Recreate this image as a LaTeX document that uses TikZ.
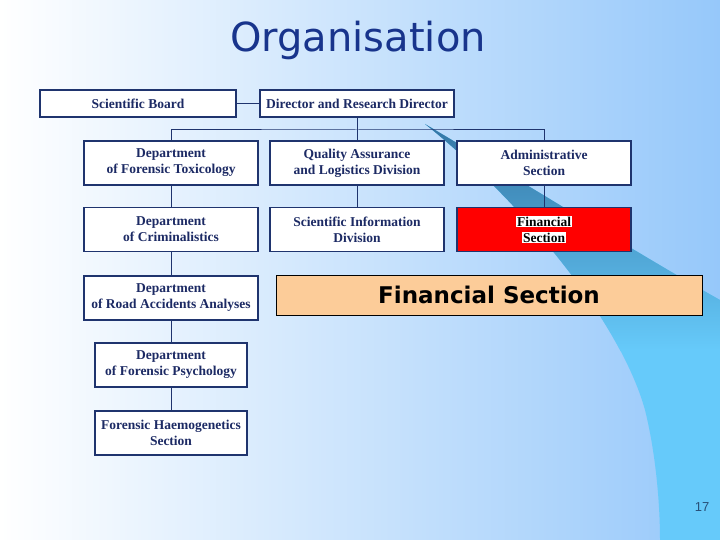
\documentclass[tikz,border=0pt]{standalone}
\usepackage{fontspec}
\setmainfont{Liberation Serif}
\newfontfamily\slidefont{DejaVu Sans}
\newfontfamily\numfont{Liberation Sans}
\definecolor{navy}{RGB}{31,52,110}
\definecolor{boxtext}{RGB}{28,42,100}
\definecolor{titleblue}{RGB}{24,52,140}
\definecolor{bgblue}{RGB}{150,200,250}
\definecolor{swdark}{RGB}{40,98,144}
\definecolor{swcyan}{RGB}{102,202,250}
\definecolor{peach}{RGB}{252,204,153}
\definecolor{finred}{RGB}{255,0,0}
\definecolor{pagegray}{RGB}{40,80,120}
\begin{document}
\begin{tikzpicture}[x=1pt,y=-1pt,font=\bfseries\fontsize{13.5}{16}\selectfont,
  box/.style={draw=navy,line width=1.6pt,fill=white,text=boxtext,align=center,minimum width=174pt,minimum height=44pt,inner sep=1pt},
  wide/.style={box,minimum height=27pt},
  link/.style={draw=navy,line width=1pt}]
\useasboundingbox (0,0) rectangle (720,540);
\shade[left color=white,right color=bgblue] (0,0) rectangle (720,540);
\begin{scope}
\clip (425,124) .. controls (520,180) and (640,255) .. (720,300) -- (720,540) -- (660,540) .. controls (660,500) and (655,450) .. (645,410) .. controls (620,320) and (520,200) .. cycle;
\fill[swcyan] (400,100) rectangle (720,540);
\shade[top color=swdark,bottom color=swcyan] (400,70) rectangle (720,350);
\end{scope}
\node[font=\slidefont\fontsize{40}{44}\selectfont,text=titleblue] (title) at (358,40) {Organisation};
\node[wide,minimum width=196pt] (sb) at (138,103.5) {Scientific Board};
\node[wide,minimum width=194pt] (dir) at (357,103.5) {Director and Research Director};
\node[box] (tox) at (171,163) {Department\\of Forensic Toxicology};
\node[box] (qa) at (357,163) {Quality Assurance\\and Logistics Division};
\node[box] (adm) at (544,163) {Administrative\\Section};
\node[box] (crim) at (171,229.5) {Department\\of Criminalistics};
\node[box] (sci) at (357,229.5) {Scientific Information\\Division};
\node[box,fill=finred,text=black] (fin) at (544,229.5) {\setlength{\fboxsep}{0.6pt}\colorbox{white}{Financial}\\\setlength{\fboxsep}{0.6pt}\colorbox{white}{Section}};
\node[box] (road) at (171,298) {Department\\of Road Accidents Analyses};
\node[box,minimum width=152pt] (psy) at (171,365) {Department\\of Forensic Psychology};
\node[box,minimum width=152pt] (hae) at (171,433) {Forensic Haemogenetics\\Section};
\coordinate (bus) at (357,130);
\draw[link] (sb) -- (dir);
\draw[link] (dir.south) -- (qa.north);
\draw[link] (tox.north) |- (bus) -| (adm.north);
\foreach \a/\b in {tox/crim,crim/road,road/psy,psy/hae,qa/sci,adm/fin} {\draw[link] (\a.south) -- (\b.north);}
\node[draw=black,line width=0.8pt,fill=peach,minimum width=426pt,minimum height=40pt,font=\slidefont\bfseries\fontsize{23}{26}\selectfont] (big) at (489,295) {Financial Section};
\node[font=\numfont\fontsize{13}{15}\selectfont,text=pagegray] (page) at (702,507) {17};
\end{tikzpicture}
\end{document}
